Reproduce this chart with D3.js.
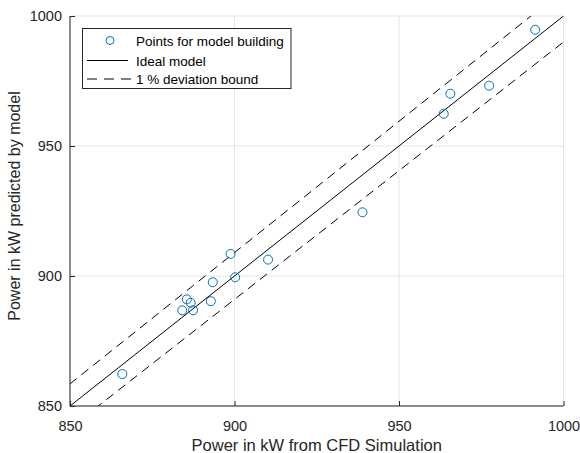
<!DOCTYPE html>
<html><head><meta charset="utf-8">
<script src="https://cdn.jsdelivr.net/npm/d3@7"></script>
<style>body{margin:0;background:#fff;} text{font-family:"Liberation Sans",Arial,sans-serif;}</style>
</head><body>
<svg id="c" width="580" height="453"></svg>
<script>
const cfdPower = [865.9, 884.1, 885.5, 886.7, 887.4, 892.8, 893.4, 898.8, 900.2, 910.2, 938.9, 963.6, 965.6, 977.4, 991.4];
const modelPower = [862.3, 886.8, 891.0, 889.7, 886.8, 890.3, 897.6, 908.5, 899.5, 906.3, 924.5, 962.4, 970.1, 973.2, 994.7];
const xTicks = [850, 900, 950, 1000];
const yTicks = [850, 900, 950, 1000];
const deviation = 0.01;
const legendLabels = ["Points for model building", "Ideal model", "1 % deviation bound"];

const svg = d3.select("#c");
const m = {l: 70, r: 580 - 563.5, t: 16, b: 453 - 406};
const W = 580, H = 453;
const x = d3.scaleLinear().domain([850, 1000]).range([m.l, W - m.r]);
const y = d3.scaleLinear().domain([850, 1000]).range([H - m.b, m.t]);
const blue = "#0072BD", axisCol = "#262626", gridCol = "#e5e5e5";

// grid
const g = svg.append("g");
g.selectAll(".gx").data(xTicks).join("line")
  .attr("x1", d => x(d)).attr("x2", d => x(d)).attr("y1", y(850)).attr("y2", y(1000))
  .attr("stroke", gridCol).attr("stroke-width", 1);
g.selectAll(".gy").data(yTicks).join("line")
  .attr("y1", d => y(d)).attr("y2", d => y(d)).attr("x1", x(850)).attr("x2", x(1000))
  .attr("stroke", gridCol).attr("stroke-width", 1);

// clip
svg.append("clipPath").attr("id", "clip").append("rect")
  .attr("x", x(850)).attr("y", y(1000)).attr("width", x(1000) - x(850)).attr("height", y(850) - y(1000));
const plot = svg.append("g").attr("clip-path", "url(#clip)");
const dom = [850, 1000];
const lineGen = d3.line().x(d => x(d[0])).y(d => y(d[1]));
plot.append("path").datum(dom.map(v => [v, v])).attr("d", lineGen)
  .attr("stroke", "#000").attr("stroke-width", 1).attr("fill", "none");
[1 + deviation, 1 - deviation].forEach(f => {
  plot.append("path").datum([[800, 800 * f], [1050, 1050 * f]]).attr("d", lineGen)
    .attr("stroke", "#000").attr("stroke-width", 1).attr("fill", "none")
    .attr("stroke-dasharray", "9,6");
});
plot.selectAll("circle").data(cfdPower.map((v, i) => [v, modelPower[i]])).join("circle")
  .attr("cx", d => x(d[0])).attr("cy", d => y(d[1])).attr("r", 4.5)
  .attr("fill", "none").attr("stroke", blue).attr("stroke-width", 1);

// axes
const xAxis = svg.append("g").attr("transform", `translate(0,${y(850)})`)
  .call(d3.axisBottom(x).tickValues(xTicks).tickSize(-5).tickPadding(15).tickFormat(d3.format("d")));
const yAxis = svg.append("g").attr("transform", `translate(${x(850)},0)`)
  .call(d3.axisLeft(y).tickValues(yTicks).tickSize(-5).tickPadding(8).tickFormat(d3.format("d")));
[xAxis, yAxis].forEach(a => {
  a.select(".domain").attr("stroke", axisCol).attr("stroke-width", 1);
  a.selectAll(".tick line").attr("stroke", axisCol);
  a.selectAll("text").attr("fill", axisCol).style("font-size", "14.5px").style("font-family", '"Liberation Sans",Arial,sans-serif');
});
yAxis.select(".domain").attr("d", `M0,${y(1000)}V${y(850)}`);
xAxis.select(".domain").attr("d", `M${x(850)},0H${x(1000)}`);

svg.append("text").attr("x", (x(850) + x(1000)) / 2).attr("y", 451).attr("text-anchor", "middle")
  .attr("fill", axisCol).style("font-size", "16.5px").text("Power in kW from CFD Simulation");
svg.append("text").attr("transform", `translate(20,206) rotate(-90)`)
  .attr("text-anchor", "middle").attr("fill", axisCol).style("font-size", "16px")
  .text("Power in kW predicted by model");

// legend
const lg = svg.append("g");
lg.append("rect").attr("x", 82.5).attr("y", 28.5).attr("width", 208.5).attr("height", 60)
  .attr("fill", "#fff").attr("stroke", "#262626").attr("stroke-width", 1);
const rows = [40.5, 60.5, 79];
lg.append("circle").attr("cx", 110).attr("cy", rows[0]).attr("r", 4).attr("fill", "none").attr("stroke", blue);
lg.append("line").attr("x1", 87).attr("x2", 128).attr("y1", rows[1]).attr("y2", rows[1]).attr("stroke", "#000");
lg.append("line").attr("x1", 87).attr("x2", 132).attr("y1", rows[2]).attr("y2", rows[2]).attr("stroke", "#000").attr("stroke-dasharray", "10,7");
lg.selectAll(".lt").data(legendLabels).join("text")
  .attr("x", 136).attr("y", (d, i) => rows[i] + 5).attr("fill", "#000").style("font-size", "13.5px").text(d => d);
</script>
</body></html>
